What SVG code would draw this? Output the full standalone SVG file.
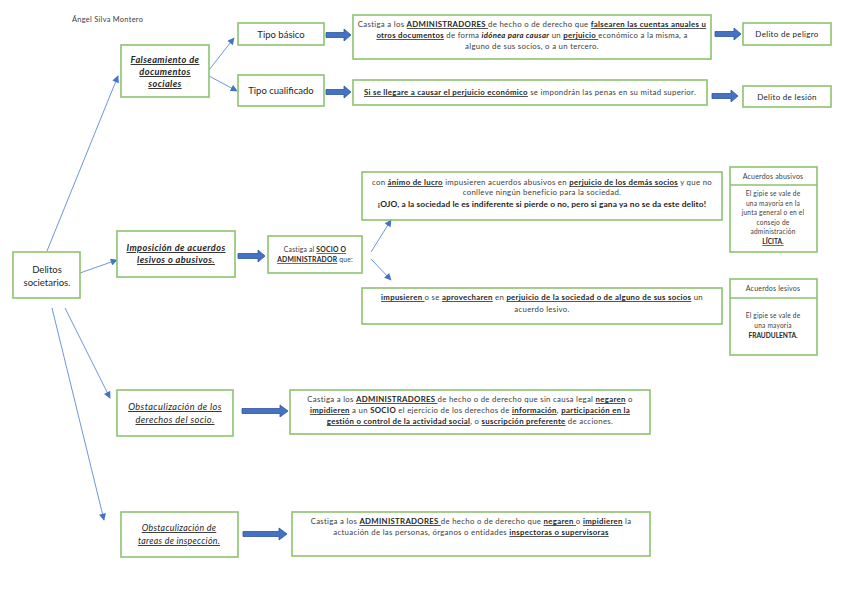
<svg xmlns="http://www.w3.org/2000/svg" width="848" height="599" viewBox="0 0 848 599">
<defs>
<marker id="ah" viewBox="0 0 10 10" refX="9" refY="5" markerWidth="8" markerHeight="7" markerUnits="userSpaceOnUse" orient="auto">
<path d="M0,0 L10,5 L0,10 Z" fill="#4472C4"/>
</marker>
<style>
.box{fill:#fff;stroke:#8DC26F;stroke-width:1.6}
.t{font-family:Lato,"Liberation Sans",sans-serif;fill:#404040;text-anchor:middle}
.s{font-size:7.8px;letter-spacing:0.3px}
.h{letter-spacing:0.4px}
.d{fill:#262626}
.b{font-weight:bold;fill:#262626}
.u{text-decoration:underline}
.i{font-style:italic}
.conn{stroke:#6F96DA;stroke-width:1;fill:none;marker-end:url(#ah)}
.blk{fill:#4472C4;stroke:#2F5597;stroke-width:0.8}
.sep{stroke:#8DC26F;stroke-width:1.6}
</style>
</defs>
<rect width="848" height="599" fill="#fff"/>
<text class="t" x="72" y="22" font-size="7.4" style="text-anchor:start;letter-spacing:0.3px">Ángel Silva Montero</text>

<g id="connectors">
<line class="conn" x1="47" y1="251" x2="118" y2="76"/>
<line class="conn" x1="80" y1="273" x2="117" y2="260"/>
<line class="conn" x1="65" y1="308" x2="110" y2="398"/>
<line class="conn" x1="52" y1="308" x2="104" y2="520"/>
<line class="conn" x1="209" y1="70" x2="234" y2="38"/>
<line class="conn" x1="209" y1="76" x2="237" y2="91"/>
<line class="conn" x1="371" y1="252" x2="391" y2="220"/>
<line class="conn" x1="371" y1="259" x2="391" y2="280"/>
<path class="blk" d="M326,32.5 H344 V29 L351,35 L344,41 V37.5 H326 Z"/>
<path class="blk" d="M326,89.5 H344 V86 L351,92 L344,98 V94.5 H326 Z"/>
<path class="blk" d="M715,31.5 H734 V28 L741,34 L734,40 V36.5 H715 Z"/>
<path class="blk" d="M712,93.5 H731 V90 L738,96 L731,102 V98.5 H712 Z"/>
<path class="blk" d="M238,253.5 H258 V250 L265,256 L258,262 V258.5 H238 Z"/>
<path class="blk" d="M242,408.5 H280 V405 L288,411 L280,417 V413.5 H242 Z"/>
<path class="blk" d="M243,531.5 H279 V528 L287,534 L279,540 V536.5 H243 Z"/>
</g>

<g id="delitos">
<rect class="box" x="13" y="252" width="67" height="46"/>
<text class="t d" x="47" y="273" font-size="9.5">Delitos</text>
<text class="t d" x="47" y="286" font-size="9.5">societarios.</text>
</g>

<g id="falseamiento">
<rect class="box" x="121" y="45" width="88" height="52"/>
<text class="t b i u h" x="165" y="63" font-size="9.2">Falseamiento de</text>
<text class="t b i u h" x="165" y="75" font-size="9.2">documentos</text>
<text class="t b i u h" x="165" y="87" font-size="9.2">sociales</text>
</g>

<g id="tipo-basico">
<rect class="box" x="238" y="23" width="86" height="22"/>
<text class="t d" x="281" y="38" font-size="9.5">Tipo básico</text>
</g>

<g id="tipo-cualificado">
<rect class="box" x="238" y="75" width="86" height="31"/>
<text class="t d" x="281" y="94" font-size="9.5">Tipo cualificado</text>
</g>

<g id="desc-basico">
<rect class="box" x="353" y="15" width="358" height="44"/>
<text class="t s" x="532" y="27">Castiga a los <tspan class="b u">ADMINISTRADORES </tspan>de hecho o de derecho que <tspan class="b u">falsearen las cuentas anuales u</tspan></text>
<text class="t s" x="532" y="38"><tspan class="b u">otros documentos</tspan> de forma <tspan class="b i">idónea para causar</tspan> un <tspan class="b u">perjuicio </tspan>económico a la misma, a</text>
<text class="t s" x="532" y="49">alguno de sus socios, o a un tercero.</text>
</g>

<g id="desc-cualificado">
<rect class="box" x="353" y="80" width="354" height="25"/>
<text class="t s" x="530" y="95"><tspan class="b u">Si se llegare a causar el perjuicio económico</tspan> se impondrán las penas en su mitad superior.</text>
</g>

<g id="delito-peligro">
<rect class="box" x="743" y="23" width="88" height="22"/>
<text class="t d" x="787" y="37" font-size="8" style="letter-spacing:0.3px">Delito de peligro</text>
</g>

<g id="delito-lesion">
<rect class="box" x="743" y="86" width="88" height="21"/>
<text class="t d" x="787" y="100" font-size="8" style="letter-spacing:0.3px">Delito de lesión</text>
</g>

<g id="imposicion">
<rect class="box" x="117" y="231" width="118" height="46"/>
<text class="t b i u h" x="176" y="251" font-size="9.2">Imposición de acuerdos</text>
<text class="t b i u h" x="176" y="263" font-size="9.2">lesivos o abusivos.</text>
</g>

<g id="castiga-socio">
<rect class="box" x="268" y="236" width="94" height="37"/>
<text class="t" x="315" y="252" font-size="6.8" style="letter-spacing:0.2px">Castiga al <tspan class="b u">SOCIO O</tspan></text>
<text class="t" x="315" y="262" font-size="6.8" style="letter-spacing:0.2px"><tspan class="b u">ADMINISTRADOR</tspan> que:</text>
</g>

<g id="abusivos-texto">
<rect class="box" x="362" y="172" width="360" height="48"/>
<text class="t s" x="542" y="185">con <tspan class="b u">ánimo de lucro</tspan> impusieren acuerdos abusivos en <tspan class="b u">perjuicio de los demás socios</tspan> y que no</text>
<text class="t s" x="542" y="195">conlleve ningún beneficio para la sociedad.</text>
<text class="t b" x="542" y="207" font-size="8.4" style="letter-spacing:0.1px">¡OJO, a la sociedad le es indiferente si pierde o no, pero si gana ya no se da este delito!</text>
</g>

<g id="lesivos-texto">
<rect class="box" x="362" y="288" width="360" height="36"/>
<text class="t s" x="542" y="300"><tspan class="b u">impusieren </tspan>o se <tspan class="b u">aprovecharen</tspan> en <tspan class="b u">perjuicio de la sociedad o de alguno de sus socios</tspan> un</text>
<text class="t s" x="542" y="312">acuerdo lesivo.</text>
</g>

<g id="acuerdos-abusivos">
<rect class="box" x="730" y="167" width="87" height="85"/>
<line class="sep" x1="730" y1="185" x2="817" y2="185"/>
<text class="t" x="773" y="179" font-size="7" style="letter-spacing:0.2px">Acuerdos abusivos</text>
<text class="t" x="773" y="196" font-size="6.6" style="letter-spacing:0.2px">El gipie se vale de</text>
<text class="t" x="773" y="205.5" font-size="6.6" style="letter-spacing:0.2px">una mayoría en la</text>
<text class="t" x="773" y="215" font-size="6.6" style="letter-spacing:0.2px">junta general o en el</text>
<text class="t" x="773" y="224.5" font-size="6.6" style="letter-spacing:0.2px">consejo de</text>
<text class="t" x="773" y="234" font-size="6.6" style="letter-spacing:0.2px">administración</text>
<text class="t b u" x="773" y="244" font-size="6.6">LÍCITA.</text>
</g>

<g id="acuerdos-lesivos">
<rect class="box" x="730" y="279" width="87" height="76"/>
<line class="sep" x1="730" y1="298" x2="817" y2="298"/>
<text class="t" x="773" y="291" font-size="7" style="letter-spacing:0.2px">Acuerdos lesivos</text>
<text class="t" x="773" y="318" font-size="6.6" style="letter-spacing:0.2px">El gipie se vale de</text>
<text class="t" x="773" y="328" font-size="6.6" style="letter-spacing:0.2px">una mayoría</text>
<text class="t b" x="773" y="338" font-size="6.6">FRAUDULENTA.</text>
</g>

<g id="obst-derechos">
<rect class="box" x="117" y="390" width="116" height="46"/>
<text class="t d i u" x="175" y="410" font-size="9.2" style="letter-spacing:0.4px">Obstaculización de los</text>
<text class="t d i u" x="175" y="423" font-size="9.2" style="letter-spacing:0.4px">derechos del socio.</text>
</g>

<g id="derechos-texto">
<rect class="box" x="290" y="390" width="360" height="44"/>
<text class="t s" x="470" y="402">Castiga a los <tspan class="b u">ADMINISTRADORES </tspan>de hecho o de derecho que sin causa legal <tspan class="b u">negaren</tspan> o</text>
<text class="t s" x="470" y="413"><tspan class="b u">impidieren</tspan> a un <tspan class="b">SOCIO</tspan> el ejercicio de los derechos de <tspan class="b u">información</tspan>, <tspan class="b u">participación en la</tspan></text>
<text class="t s" x="470" y="424"><tspan class="b u">gestión o control de la actividad social</tspan>, o <tspan class="b u">suscripción preferente</tspan> de acciones.</text>
</g>

<g id="obst-inspeccion">
<rect class="box" x="121" y="512" width="117" height="45"/>
<text class="t d i u" x="179" y="531" font-size="8.8" style="letter-spacing:0.3px">Obstaculización de</text>
<text class="t d i u" x="179" y="544" font-size="8.8" style="letter-spacing:0.3px">tareas de inspección.</text>
</g>

<g id="inspeccion-texto">
<rect class="box" x="292" y="512" width="358" height="44"/>
<text class="t s" x="471" y="524">Castiga a los <tspan class="b u">ADMINISTRADORES </tspan>de hecho o de derecho que <tspan class="b u">negaren </tspan>o <tspan class="b u">impidieren</tspan> la</text>
<text class="t s" x="471" y="535">actuación de las personas, órganos o entidades <tspan class="b u">inspectoras o supervisoras</tspan></text>
</g>
</svg>
